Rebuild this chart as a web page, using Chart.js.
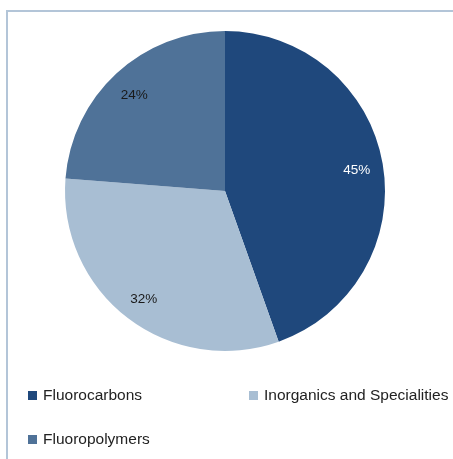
<!DOCTYPE html>
<html>
<head>
<meta charset="utf-8">
<script src="https://cdn.jsdelivr.net/npm/chart.js@4"></script>
<style>
  body { margin: 0; background: #fff; }
  #wrap { position: relative; width: 453px; height: 459px; overflow: hidden; }
  #frame { position: absolute; left: 6px; top: 10px; width: 500px; height: 500px;
           border: 2px solid #b3c5d8; box-sizing: border-box; }
  #pie { position: absolute; left: 0; top: 0; }
  .leg { position: absolute; font-family: 'Liberation Sans', Arial, sans-serif; font-size: 15.5px;
         color: #222; white-space: nowrap; line-height: 16px; }
  .leg span { display: inline-block; width: 9px; height: 9px; margin-right: 6px; vertical-align: 0px; }
</style>
</head>
<body>
<div id="wrap">
  <div id="frame"></div>
  <canvas id="pie" width="453" height="459"></canvas>
  <div id="legend"></div>
</div>
<script>
// Chart data
const categories = ['Fluorocarbons', 'Inorganics and Specialities', 'Fluoropolymers'];
const shares = [45, 32, 24];
const sliceColors = ['#1f487c', '#a8bed3', '#4f7298'];
const labelColors = ['#ffffff', '#1a1a1a', '#1a1a1a'];

// Legend positions (two columns, like the original layout)
const legendSpots = [[28, 387], [249, 387], [28, 431]];

// Percent labels drawn inside each slice
const sliceLabels = {
    id: 'sliceLabels',
    afterDatasetsDraw(chart) {
        const ctx = chart.ctx;
        const meta = chart.getDatasetMeta(0);
        ctx.save();
        ctx.font = "13.5px 'Liberation Sans', Arial, sans-serif";
        ctx.textAlign = 'center';
        ctx.textBaseline = 'middle';
        meta.data.forEach((arc, i) => {
            const mid = (arc.startAngle + arc.endAngle) / 2;
            const r = arc.outerRadius * 0.835;
            ctx.fillStyle = labelColors[i];
            ctx.fillText(shares[i] + '%', arc.x + Math.cos(mid) * r, arc.y + Math.sin(mid) * r + 2);
        });
        ctx.restore();
    }
};

const pieChart = new Chart(document.getElementById('pie').getContext('2d'), {
    type: 'pie',
    data: {
        labels: categories,
        datasets: [{
            data: shares,
            backgroundColor: sliceColors,
            borderWidth: 0
        }]
    },
    options: {
        responsive: false,
        animation: false,
        layout: { padding: { left: 65, right: 68, top: 31, bottom: 108 } },
        plugins: {
            legend: { display: false },
            tooltip: { enabled: false }
        }
    },
    plugins: [sliceLabels]
});

// Build legend
const legend = document.getElementById('legend');
categories.forEach((name, i) => {
    const item = document.createElement('div');
    item.className = 'leg';
    item.style.left = legendSpots[i][0] + 'px';
    item.style.top = legendSpots[i][1] + 'px';
    item.innerHTML = `<span style="background:${sliceColors[i]}"></span>${name}`;
    legend.appendChild(item);
});
</script>
</body>
</html>
